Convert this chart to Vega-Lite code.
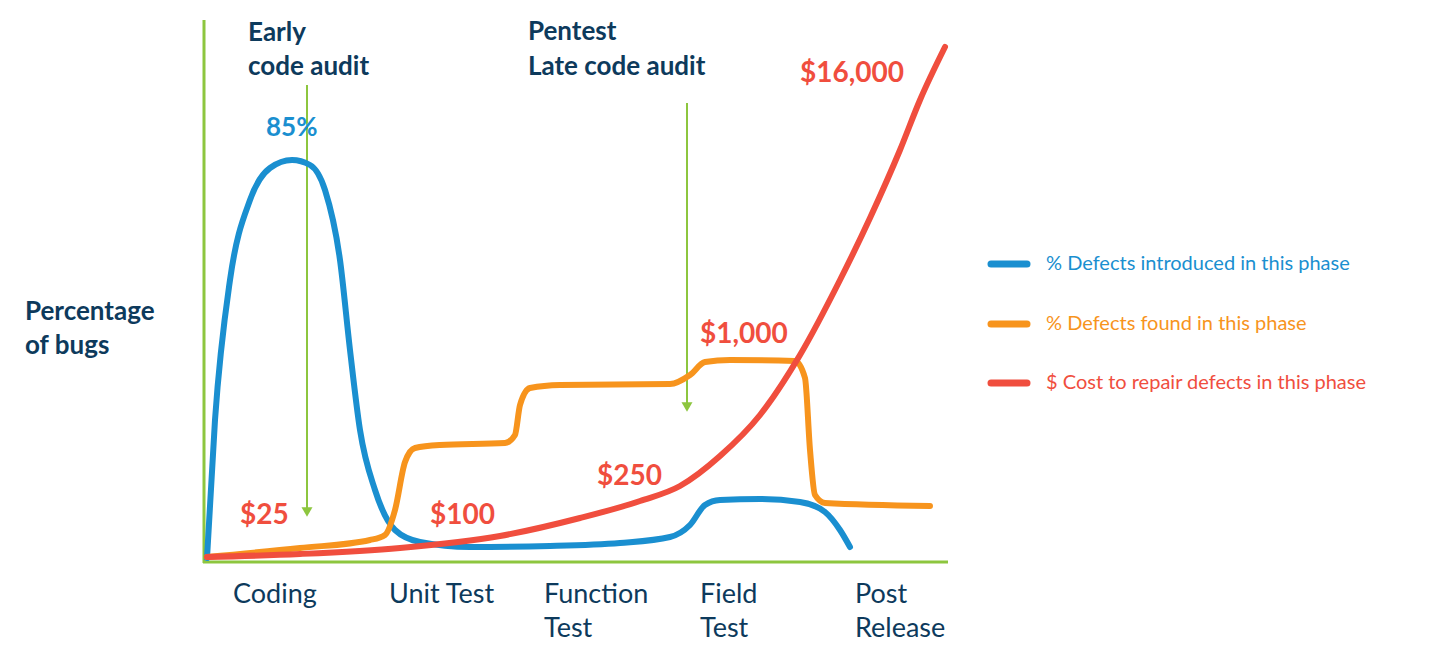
{
  "$schema": "https://vega.github.io/schema/vega-lite/v6.json",
  "width": 1430,
  "height": 650,
  "padding": 0,
  "autosize": {"type": "fit", "contains": "padding"},
  "background": "white",
  "config": {"view": {"stroke": null}, "text": {"font": "Lato"}},
  "datasets": {
    "curves": [
      {"series": "blue", "x": 207, "y": 558}, {"series": "blue", "x": 215, "y": 420}, {"series": "blue", "x": 230, "y": 280},
      {"series": "blue", "x": 250, "y": 200}, {"series": "blue", "x": 270, "y": 168}, {"series": "blue", "x": 292, "y": 160},
      {"series": "blue", "x": 310, "y": 165}, {"series": "blue", "x": 325, "y": 190}, {"series": "blue", "x": 340, "y": 260},
      {"series": "blue", "x": 350, "y": 350}, {"series": "blue", "x": 360, "y": 430}, {"series": "blue", "x": 375, "y": 490},
      {"series": "blue", "x": 395, "y": 530}, {"series": "blue", "x": 420, "y": 542}, {"series": "blue", "x": 470, "y": 547},
      {"series": "blue", "x": 550, "y": 546}, {"series": "blue", "x": 620, "y": 543}, {"series": "blue", "x": 670, "y": 537},
      {"series": "blue", "x": 690, "y": 525}, {"series": "blue", "x": 705, "y": 505}, {"series": "blue", "x": 720, "y": 500},
      {"series": "blue", "x": 760, "y": 499}, {"series": "blue", "x": 800, "y": 502}, {"series": "blue", "x": 825, "y": 512},
      {"series": "blue", "x": 840, "y": 530}, {"series": "blue", "x": 850, "y": 547},
      {"series": "orange", "x": 207, "y": 557}, {"series": "orange", "x": 300, "y": 548}, {"series": "orange", "x": 370, "y": 540},
      {"series": "orange", "x": 385, "y": 535}, {"series": "orange", "x": 395, "y": 510}, {"series": "orange", "x": 405, "y": 462},
      {"series": "orange", "x": 415, "y": 448}, {"series": "orange", "x": 440, "y": 445}, {"series": "orange", "x": 505, "y": 443},
      {"series": "orange", "x": 515, "y": 435}, {"series": "orange", "x": 520, "y": 405}, {"series": "orange", "x": 530, "y": 388},
      {"series": "orange", "x": 560, "y": 385}, {"series": "orange", "x": 670, "y": 384}, {"series": "orange", "x": 690, "y": 375},
      {"series": "orange", "x": 705, "y": 362}, {"series": "orange", "x": 730, "y": 360}, {"series": "orange", "x": 795, "y": 361},
      {"series": "orange", "x": 805, "y": 378}, {"series": "orange", "x": 810, "y": 450}, {"series": "orange", "x": 815, "y": 495},
      {"series": "orange", "x": 825, "y": 503}, {"series": "orange", "x": 930, "y": 506},
      {"series": "red", "x": 207, "y": 557}, {"series": "red", "x": 300, "y": 554}, {"series": "red", "x": 400, "y": 548},
      {"series": "red", "x": 500, "y": 536}, {"series": "red", "x": 580, "y": 518}, {"series": "red", "x": 640, "y": 501},
      {"series": "red", "x": 680, "y": 486}, {"series": "red", "x": 720, "y": 456}, {"series": "red", "x": 760, "y": 415},
      {"series": "red", "x": 800, "y": 355}, {"series": "red", "x": 840, "y": 280}, {"series": "red", "x": 870, "y": 218},
      {"series": "red", "x": 900, "y": 150}, {"series": "red", "x": 920, "y": 100}, {"series": "red", "x": 945, "y": 47}
    ],
    "legend": [
      {"series": "blue", "y": 264, "label": "% Defects introduced in this phase"},
      {"series": "orange", "y": 324, "label": "% Defects found in this phase"},
      {"series": "red", "y": 383, "label": "$ Cost to repair defects in this phase"}
    ],
    "arrows": [
      {"x": 307, "y1": 85, "y2": 512},
      {"x": 687, "y1": 103, "y2": 407}
    ],
    "titles": [
      {"x": 248, "y": 33, "text": "Early"}, {"x": 248, "y": 67, "text": "code audit"},
      {"x": 528, "y": 32, "text": "Pentest"}, {"x": 528, "y": 67, "text": "Late code audit"},
      {"x": 25, "y": 312, "text": "Percentage"}, {"x": 25, "y": 346, "text": "of bugs"}
    ],
    "costs": [
      {"x": 800, "y": 74, "text": "$16,000"}, {"x": 700, "y": 335, "text": "$1,000"},
      {"x": 597, "y": 477, "text": "$250"}, {"x": 430, "y": 516, "text": "$100"},
      {"x": 240, "y": 516, "text": "$25"}
    ],
    "phases": [
      {"x": 233, "y": 595, "text": "Coding"}, {"x": 389, "y": 595, "text": "Unit Test"},
      {"x": 544, "y": 595, "text": "Function"}, {"x": 544, "y": 629, "text": "Test"},
      {"x": 700, "y": 595, "text": "Field"}, {"x": 700, "y": 629, "text": "Test"},
      {"x": 855, "y": 595, "text": "Post"}, {"x": 855, "y": 629, "text": "Release"}
    ]
  },
  "resolve": {"scale": {"x": "shared", "y": "shared"}},
  "layer": [
    {
      "data": {"values": [{"x1": 204, "x2": 204, "y1": 20, "y2": 563}, {"x1": 203, "x2": 948, "y1": 562, "y2": 562}]},
      "mark": {"type": "rule", "color": "#8dc63f", "strokeWidth": 3},
      "encoding": {
        "x": {"field": "x1", "type": "quantitative", "scale": {"domain": [0, 1430], "nice": false, "zero": false}, "axis": null},
        "x2": {"field": "x2"},
        "y": {"field": "y1", "type": "quantitative", "scale": {"domain": [0, 650], "nice": false, "zero": false, "reverse": true}, "axis": null},
        "y2": {"field": "y2"}
      }
    },
    {
      "data": {"name": "arrows"},
      "mark": {"type": "rule", "color": "#8dc63f", "strokeWidth": 2},
      "encoding": {
        "x": {"field": "x", "type": "quantitative"},
        "y": {"field": "y1", "type": "quantitative"},
        "y2": {"field": "y2"}
      }
    },
    {
      "data": {"name": "arrows"},
      "mark": {"type": "point", "shape": "triangle-down", "filled": true, "color": "#8dc63f", "size": 120, "opacity": 1},
      "encoding": {
        "x": {"field": "x", "type": "quantitative"},
        "y": {"field": "y2", "type": "quantitative"}
      }
    },
    {
      "data": {"name": "curves"},
      "mark": {"type": "line", "interpolate": "monotone", "strokeWidth": 6, "strokeCap": "round"},
      "encoding": {
        "x": {"field": "x", "type": "quantitative"},
        "y": {"field": "y", "type": "quantitative"},
        "color": {"field": "series", "type": "nominal", "scale": {"domain": ["blue", "orange", "red"], "range": ["#1a8fd0", "#f7941d", "#f04e3e"]}, "legend": null}
      }
    },
    {
      "data": {"name": "legend"},
      "mark": {"type": "rule", "strokeWidth": 7, "strokeCap": "round"},
      "encoding": {
        "x": {"datum": 991, "type": "quantitative"},
        "x2": {"datum": 1027},
        "y": {"field": "y", "type": "quantitative"},
        "color": {"field": "series", "type": "nominal", "legend": null}
      }
    },
    {
      "data": {"name": "legend"},
      "mark": {"type": "text", "align": "left", "baseline": "middle", "fontSize": 20},
      "encoding": {
        "x": {"datum": 1046, "type": "quantitative"},
        "y": {"field": "y", "type": "quantitative"},
        "text": {"field": "label"},
        "color": {"field": "series", "type": "nominal", "legend": null}
      }
    },
    {
      "data": {"name": "titles"},
      "mark": {"type": "text", "align": "left", "baseline": "middle", "fontSize": 26, "fontWeight": "bold", "color": "#0d3a5c"},
      "encoding": {
        "x": {"field": "x", "type": "quantitative"},
        "y": {"field": "y", "type": "quantitative"},
        "text": {"field": "text"}
      }
    },
    {
      "data": {"name": "costs"},
      "mark": {"type": "text", "align": "left", "baseline": "middle", "fontSize": 28, "fontWeight": "bold", "color": "#f04e3e"},
      "encoding": {
        "x": {"field": "x", "type": "quantitative"},
        "y": {"field": "y", "type": "quantitative"},
        "text": {"field": "text"}
      }
    },
    {
      "data": {"values": [{"x": 266, "y": 128, "text": "85%"}]},
      "mark": {"type": "text", "align": "left", "baseline": "middle", "fontSize": 26, "fontWeight": "bold", "color": "#1a8fd0"},
      "encoding": {
        "x": {"field": "x", "type": "quantitative"},
        "y": {"field": "y", "type": "quantitative"},
        "text": {"field": "text"}
      }
    },
    {
      "data": {"name": "phases"},
      "mark": {"type": "text", "align": "left", "baseline": "middle", "fontSize": 27, "color": "#0d3a5c"},
      "encoding": {
        "x": {"field": "x", "type": "quantitative"},
        "y": {"field": "y", "type": "quantitative"},
        "text": {"field": "text"}
      }
    }
  ]
}
